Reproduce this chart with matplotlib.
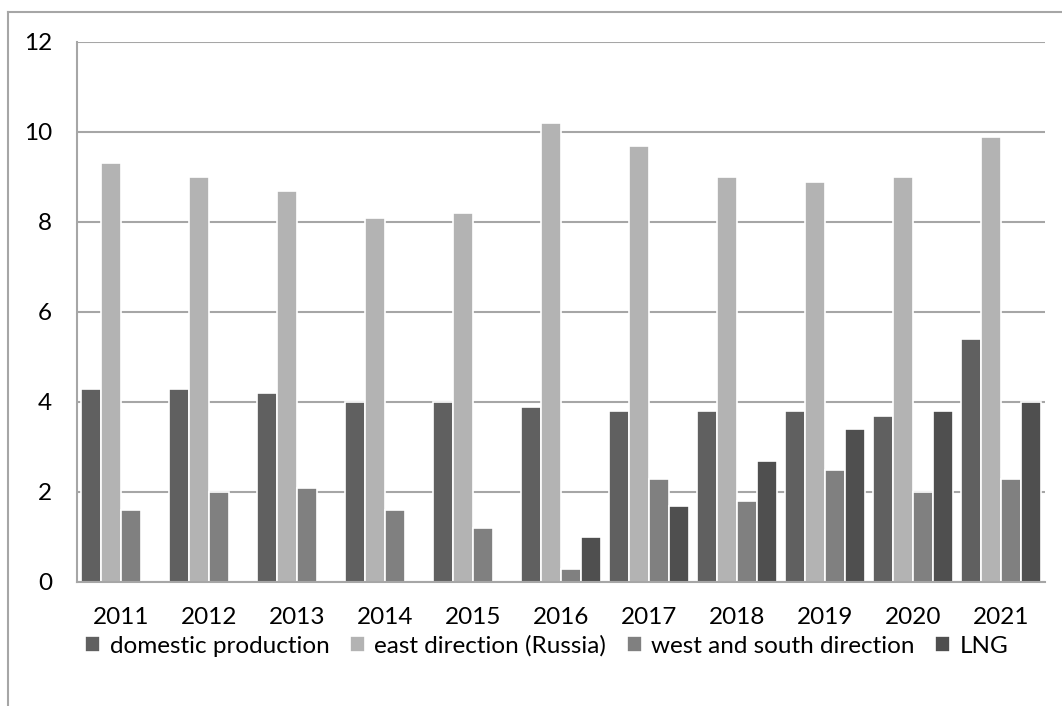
import matplotlib
matplotlib.use("Agg")
import matplotlib.pyplot as plt
from matplotlib.lines import Line2D
import numpy as np

years = ["2011", "2012", "2013", "2014", "2015", "2016", "2017", "2018", "2019", "2020", "2021"]
domestic = [4.3, 4.3, 4.2, 4.0, 4.0, 3.9, 3.8, 3.8, 3.8, 3.7, 5.4]
east = [9.3, 9.0, 8.7, 8.1, 8.2, 10.2, 9.7, 9.0, 8.9, 9.0, 9.9]
west = [1.6, 2.0, 2.1, 1.6, 1.2, 0.3, 2.3, 1.8, 2.5, 2.0, 2.3]
lng = [0, 0, 0, 0, 0, 1.0, 1.7, 2.7, 3.4, 3.8, 4.0]
series_names = ["domestic production", "east direction (Russia)", "west and south direction", "LNG"]
colors = ["#606060", "#b3b3b3", "#808080", "#4f4f4f"]

plt.rcParams['font.family'] = ['Lato', 'DejaVu Sans']

W, H = 1062, 706
fig = plt.figure(figsize=(W / 100, H / 100), dpi=100)
ax = fig.add_axes([77 / W, 1 - 582 / H, (1045 - 77) / W, (582 - 42) / H])

x = np.arange(len(years))
bw = 20 / 88
offsets = [-1.5 * bw, -0.5 * bw, 0.5 * bw, 1.5 * bw]
for vals, off, c, name in zip([domestic, east, west, lng], offsets, colors, series_names):
    v = np.array(vals, dtype=float)
    m = v > 0
    ax.bar(x[m] + off, v[m], width=bw, color=c, edgecolor="white", linewidth=1.2, label=name, zorder=3)

ax.set_xlim(-0.5, len(years) - 0.5)
ax.set_ylim(0, 12)
ax.set_yticks([0, 2, 4, 6, 8, 10, 12])
ax.set_xticks(x)
ax.set_xticklabels(years)
ax.tick_params(axis='both', length=0, labelsize=17.5, colors="black")
ax.tick_params(axis='y', pad=18)
ax.tick_params(axis='x', pad=18)
ax.grid(axis='y', color="#a6a6a6", linewidth=1.5, zorder=0)
for s in ["top", "right"]:
    ax.spines[s].set_visible(False)
for s in ["left", "bottom"]:
    ax.spines[s].set_color("#a6a6a6")
    ax.spines[s].set_linewidth(1.5)
    ax.spines[s].set_zorder(4)

leg = fig.legend(loc="center", bbox_to_anchor=(547 / W, 1 - 646 / H), ncol=4, frameon=False,
                 fontsize=17.5, handlelength=0.6, handleheight=0.6, handletextpad=0.4,
                 columnspacing=0.85)

# outer chart border (left and top visible)
fig.add_artist(Line2D([8 / W, 8 / W], [0, 1 - 12 / H], transform=fig.transFigure,
                      color="#a6a6a6", linewidth=1.5))
fig.add_artist(Line2D([8 / W, 1], [1 - 12 / H, 1 - 12 / H], transform=fig.transFigure,
                      color="#a6a6a6", linewidth=1.5))

fig.savefig("out.png", dpi=100)
